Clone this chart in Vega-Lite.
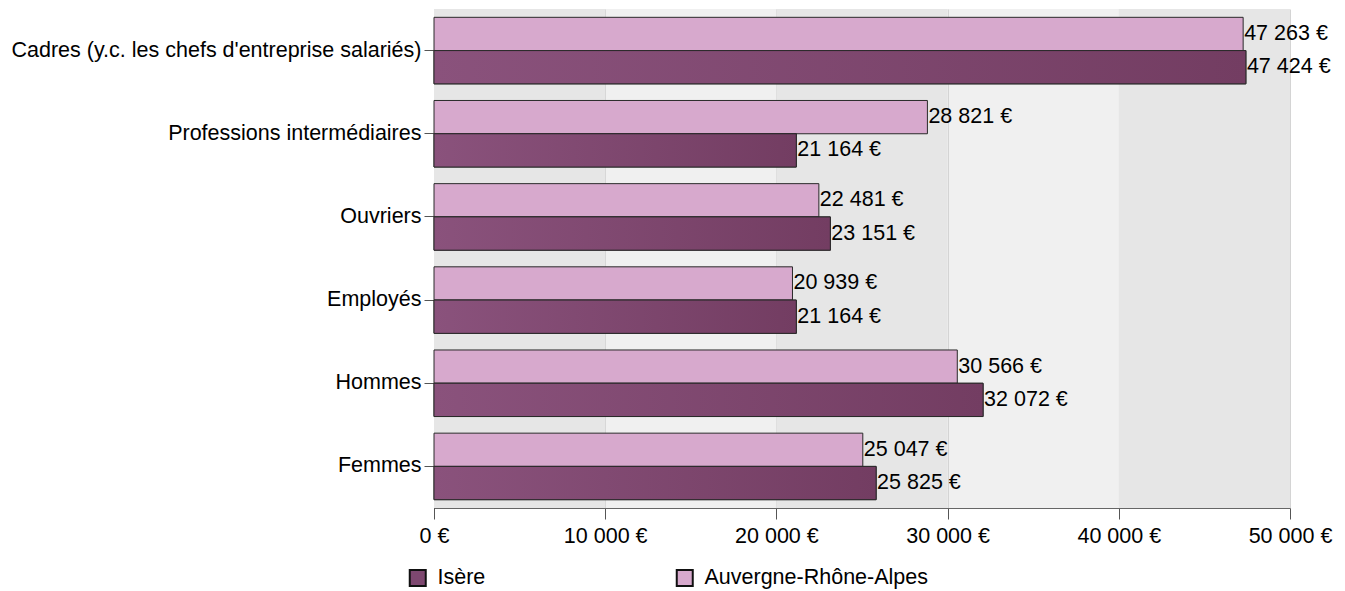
{
  "$schema": "https://vega.github.io/schema/vega-lite/v6.json",
  "width": 856,
  "height": 499,
  "padding": {"left": 11, "top": 9, "right": 50, "bottom": 5},
  "config": {
    "locale": {"number": {"decimal": ",", "thousands": "\u00a0", "grouping": [3], "currency": ["", "\u00a0€"]}},
    "font": "Liberation Sans",
    "view": {"stroke": null, "fill": "#f0f0f0"},
    "axis": {"labelFontSize": 21.5, "labelColor": "#000", "labelFont": "Liberation Sans", "title": null, "tickColor": "#555", "domainColor": "#555"}
  },
  "datasets": {
    "bands": [
      {"start": 0, "end": 10000},
      {"start": 20000, "end": 30000},
      {"start": 40000, "end": 50000}
    ],
    "bars": [
      {"categorie": "Cadres (y.c. les chefs d'entreprise salariés)", "zone": "Auvergne-Rhône-Alpes", "valeur": 47263},
      {"categorie": "Cadres (y.c. les chefs d'entreprise salariés)", "zone": "Isère", "valeur": 47424},
      {"categorie": "Professions intermédiaires", "zone": "Auvergne-Rhône-Alpes", "valeur": 28821},
      {"categorie": "Professions intermédiaires", "zone": "Isère", "valeur": 21164},
      {"categorie": "Ouvriers", "zone": "Auvergne-Rhône-Alpes", "valeur": 22481},
      {"categorie": "Ouvriers", "zone": "Isère", "valeur": 23151},
      {"categorie": "Employés", "zone": "Auvergne-Rhône-Alpes", "valeur": 20939},
      {"categorie": "Employés", "zone": "Isère", "valeur": 21164},
      {"categorie": "Hommes", "zone": "Auvergne-Rhône-Alpes", "valeur": 30566},
      {"categorie": "Hommes", "zone": "Isère", "valeur": 32072},
      {"categorie": "Femmes", "zone": "Auvergne-Rhône-Alpes", "valeur": 25047},
      {"categorie": "Femmes", "zone": "Isère", "valeur": 25825}
    ]
  },
  "layer": [
    {
      "data": {"name": "bands"},
      "mark": {"type": "rect", "color": "#e6e6e6"},
      "encoding": {
        "x": {"field": "start", "type": "quantitative", "scale": {"domain": [0, 50000], "nice": false},
              "axis": {"values": [0, 10000, 20000, 30000, 40000, 50000], "format": "$,.0f", "grid": true, "gridColor": "#d4d4d4", "tickSize": 11, "labelPadding": 6, "labelFlush": false, "domainColor": "#666"}},
        "x2": {"field": "end"}
      }
    },
    {
      "data": {"name": "bars"},
      "mark": {"type": "bar", "stroke": "#2a2a2a", "strokeWidth": 1},
      "encoding": {
        "y": {"field": "categorie", "type": "nominal",
              "sort": ["Cadres (y.c. les chefs d'entreprise salariés)", "Professions intermédiaires", "Ouvriers", "Employés", "Hommes", "Femmes"],
              "scale": {"paddingInner": 0.2, "paddingOuter": 0.1},
              "axis": {"tickSize": 10, "labelPadding": 3, "domainColor": "#333", "labelLimit": 600}},
        "yOffset": {"field": "zone", "type": "nominal", "sort": ["Auvergne-Rhône-Alpes", "Isère"]},
        "x": {"field": "valeur", "type": "quantitative"},
        "color": {"field": "zone", "type": "nominal",
                  "scale": {"domain": ["Isère", "Auvergne-Rhône-Alpes"], "range": ["#7e4870", "#d7a9cd"]},
                  "legend": {"title": null, "orient": "none", "legendX": -27, "legendY": 558, "direction": "horizontal", "columns": 2, "columnPadding": 186,
                             "symbolType": "square", "symbolSize": 256, "symbolStrokeColor": "#111", "symbolStrokeWidth": 2,
                             "labelFontSize": 21.5, "labelColor": "#000", "labelFont": "Liberation Sans", "labelOffset": 9, "labelLimit": 500}}
      }
    },
    {
      "data": {"name": "bars"},
      "transform": [{"filter": "datum.zone === 'Isère'"}],
      "mark": {"type": "bar", "stroke": "#2a2a2a", "strokeWidth": 1,
               "fill": {"gradient": "linear", "x1": 0, "y1": 0, "x2": 1, "y2": 0, "stops": [{"offset": 0, "color": "#8a527c"}, {"offset": 1, "color": "#733d62"}]}},
      "encoding": {
        "y": {"field": "categorie", "type": "nominal", "sort": ["Cadres (y.c. les chefs d'entreprise salariés)", "Professions intermédiaires", "Ouvriers", "Employés", "Hommes", "Femmes"]},
        "yOffset": {"field": "zone", "type": "nominal", "sort": ["Auvergne-Rhône-Alpes", "Isère"]},
        "x": {"field": "valeur", "type": "quantitative"}
      }
    },
    {
      "data": {"name": "bars"},
      "mark": {"type": "text", "align": "left", "baseline": "middle", "dx": 1, "fontSize": 21.5, "color": "#000"},
      "encoding": {
        "y": {"field": "categorie", "type": "nominal", "sort": ["Cadres (y.c. les chefs d'entreprise salariés)", "Professions intermédiaires", "Ouvriers", "Employés", "Hommes", "Femmes"]},
        "yOffset": {"field": "zone", "type": "nominal", "sort": ["Auvergne-Rhône-Alpes", "Isère"]},
        "x": {"field": "valeur", "type": "quantitative"},
        "text": {"field": "valeur", "type": "quantitative", "format": "$,.0f"}
      }
    }
  ]
}
